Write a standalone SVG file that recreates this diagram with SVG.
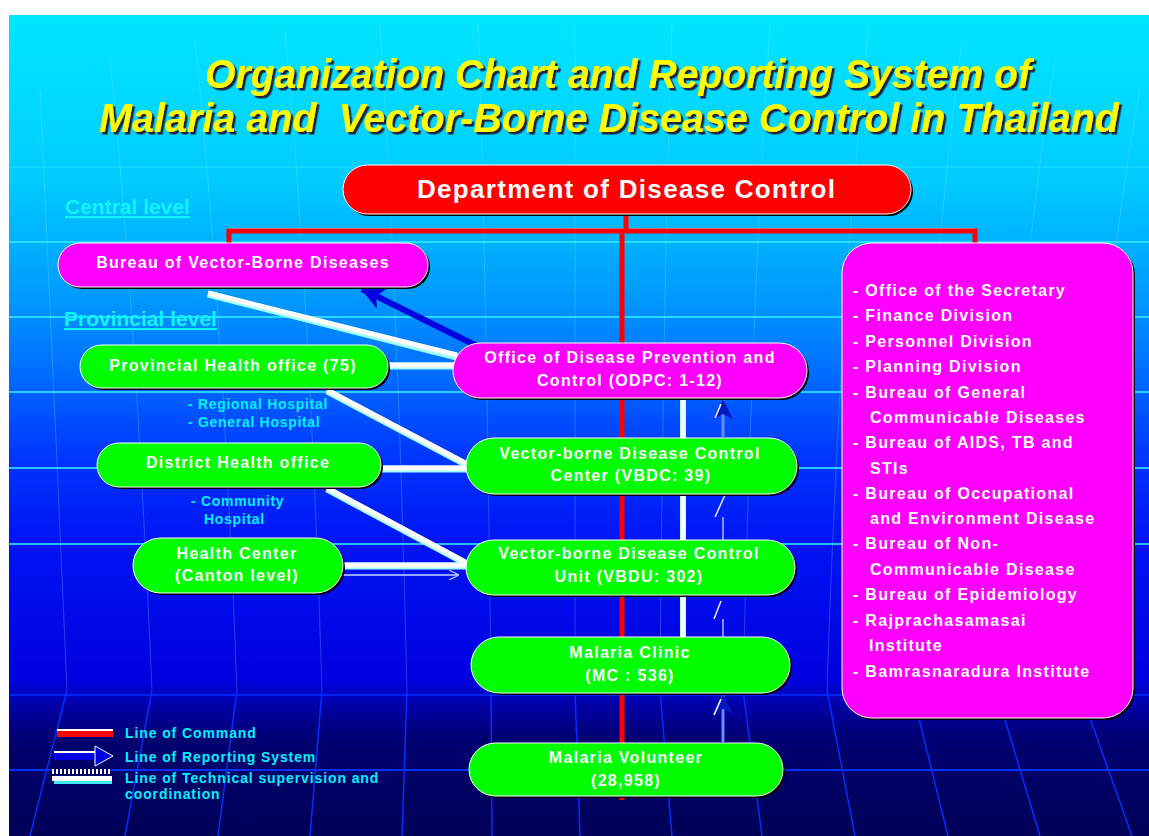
<svg xmlns="http://www.w3.org/2000/svg" width="1149" height="836" viewBox="0 0 1149 836">
<defs>
<linearGradient id="bg" x1="0" y1="0" x2="0" y2="1">
<stop offset="0" stop-color="#00E6FF"/>
<stop offset="0.2" stop-color="#00CCFF"/>
<stop offset="0.347" stop-color="#0098FF"/>
<stop offset="0.445" stop-color="#0068FF"/>
<stop offset="0.542" stop-color="#0034FF"/>
<stop offset="0.64" stop-color="#0014F4"/>
<stop offset="0.81" stop-color="#0000E0"/>
<stop offset="0.84" stop-color="#0000A8"/>
<stop offset="0.883" stop-color="#000070"/>
<stop offset="1" stop-color="#000058"/>
</linearGradient>
<filter id="tsh" x="-5%" y="-30%" width="110%" height="160%">
<feDropShadow dx="2.5" dy="2.5" stdDeviation="0" flood-color="#20203a" flood-opacity="1"/>
</filter>
<marker id="ah" viewBox="0 0 24 22" refX="22" refY="11" markerWidth="24" markerHeight="22" markerUnits="userSpaceOnUse" orient="auto">
<path d="M0,0 L24,11 L0,22 L6,11 z" fill="#0000E0"/>
</marker>
<marker id="ahv" viewBox="0 0 20 20" refX="19" refY="10" markerWidth="20" markerHeight="20" markerUnits="userSpaceOnUse" orient="auto">
<path d="M0,0 L20,10 L0,20 L5,10 z" fill="#0818C0"/>
</marker>
<marker id="ahs" viewBox="0 0 10 10" refX="9" refY="5" markerWidth="10" markerHeight="10" markerUnits="userSpaceOnUse" orient="auto">
<path d="M0,0 L10,5 L0,10" fill="none" stroke="#B8C8FF" stroke-width="1.2"/>
</marker>
<pattern id="hatch" width="4" height="6" patternUnits="userSpaceOnUse">
<rect width="4" height="6" fill="#000070"/>
<rect x="0" width="2" height="6" fill="#FFFFFF"/>
</pattern>
</defs>
<style>
.title{font-family:"Liberation Sans",Arial,sans-serif;font-weight:bold;font-style:italic;font-size:41px;fill:#FFFF00}
.lbl{font-family:"Liberation Sans",Arial,sans-serif;font-weight:bold;font-size:16px;fill:#FFFFFF;letter-spacing:1.3px;text-anchor:middle}
.dept{font-family:"Liberation Sans",Arial,sans-serif;font-weight:bold;font-size:26px;fill:#FFFFFF;text-anchor:middle}
.list{font-family:"Liberation Sans",Arial,sans-serif;font-weight:bold;font-size:16px;fill:#FFFFFF;letter-spacing:1.3px}
.lvl{font-family:"Liberation Sans",Arial,sans-serif;font-weight:bold;font-size:21px;fill:#10F4FF;text-decoration:underline}
.hosp{font-family:"Liberation Sans",Arial,sans-serif;font-weight:bold;font-size:14px;fill:#00F0FF;letter-spacing:0.7px}
.leg{font-family:"Liberation Sans",Arial,sans-serif;font-weight:bold;font-size:14px;fill:#00F0FF;letter-spacing:0.9px}
.shadow{fill:#000000}
.green{fill:#00FF00;stroke:#FFFFFF;stroke-width:1}
.mag{fill:#FF00FF;stroke:#FFFFFF;stroke-width:1}
.red{fill:#FF0000;stroke:#FFFFFF;stroke-width:1}
.cmd{stroke:#FF0000;stroke-width:5;fill:none}
.tech{stroke:#FFFFFF;stroke-width:5;fill:none}
.techc{stroke:#A0FFFF;stroke-width:7;fill:none}
.rep{stroke:#0000E0;stroke-width:6;fill:none}
.repv{stroke:#6888FF;stroke-width:3;fill:none}
.faint{stroke:#C8D8FF;stroke-width:1.3;fill:none}
.gridh{stroke:#30ECFF;stroke-width:2}
.gridv{stroke:#80F0FF;stroke-width:1;stroke-opacity:0.25;fill:none}
.gridb{stroke:#0030FF;stroke-width:1.5;fill:none}
</style>

<rect x="0" y="0" width="1149" height="836" fill="#FFFFFF"/>
<g id="background">
<rect x="9" y="15" width="1140" height="821" fill="url(#bg)"/>
<g>
<line class="gridh" x1="9" y1="242" x2="1149" y2="242" stroke-opacity="0.8"/>
<line class="gridh" x1="9" y1="317" x2="1149" y2="317" stroke-opacity="0.8"/>
<line class="gridh" x1="9" y1="392" x2="1149" y2="392" stroke-opacity="0.8"/>
<line class="gridh" x1="9" y1="468" x2="1149" y2="468" stroke-opacity="0.8"/>
<line class="gridh" x1="9" y1="544" x2="1149" y2="544" stroke-opacity="0.8"/>
<line class="gridh" x1="9" y1="167" x2="1149" y2="167" stroke-opacity="0.3"/>
<line x1="9" y1="695" x2="1149" y2="695" stroke="#0030FF" stroke-width="1.5"/>
<line x1="9" y1="770" x2="1149" y2="770" stroke="#0030FF" stroke-width="2"/>
</g>
<g>
<path class="gridv" d="M40,90 Q50,300 67,690"/>
<path class="gridv" d="M110,60 Q135,300 152,690"/>
<path class="gridv" d="M195,40 Q222,300 237,690"/>
<path class="gridv" d="M285,30 Q310,300 322,690"/>
<path class="gridv" d="M380,25 Q398,300 407,690"/>
<path class="gridv" d="M478,22 Q487,300 491,690"/>
<path class="gridv" d="M575,22 Q575,300 575,690"/>
<path class="gridv" d="M672,22 Q663,300 660,690"/>
<path class="gridv" d="M770,25 Q752,300 743,690"/>
<path class="gridv" d="M868,30 Q840,300 827,690"/>
<path class="gridv" d="M962,40 Q928,300 912,690"/>
<path class="gridv" d="M1055,60 Q1016,300 996,690"/>
<path class="gridv" d="M1140,90 Q1100,300 1080,690"/>
<path class="gridb" d="M67,690 L30,836"/>
<path class="gridb" d="M152,690 L125,836"/>
<path class="gridb" d="M237,690 L218,836"/>
<path class="gridb" d="M322,690 L310,836"/>
<path class="gridb" d="M407,690 L402,836"/>
<path class="gridb" d="M491,690 L492,836"/>
<path class="gridb" d="M575,690 L580,836"/>
<path class="gridb" d="M660,690 L672,836"/>
<path class="gridb" d="M743,690 L762,836"/>
<path class="gridb" d="M827,690 L855,836"/>
<path class="gridb" d="M912,690 L948,836"/>
<path class="gridb" d="M996,690 L1040,836"/>
<path class="gridb" d="M1080,690 L1132,836"/>
</g>
</g>

<g id="title" filter="url(#tsh)">
<text class="title" x="205" y="88" textLength="826" lengthAdjust="spacingAndGlyphs">Organization Chart and Reporting System of</text>
<text class="title" x="99" y="132" style="font-size:40px" textLength="1020" lengthAdjust="spacingAndGlyphs" xml:space="preserve">Malaria and  Vector-Borne Disease Control in Thailand</text>
</g>

<g id="levels">
<text class="lvl" x="65" y="214">Central level</text>
<text class="lvl" x="64" y="326">Provincial level</text>
</g>

<g id="connectors">
<g id="command-lines">
<path d="M228,229 L975,229" stroke="#FFFFFF" stroke-width="1"/>
<path class="cmd" d="M626,214 L626,231"/>
<path class="cmd" d="M229,246 L229,231 L975,231 L975,246"/>
<path class="cmd" d="M622,231 L622,800"/>
</g>
<g id="technical-lines">
<path class="techc" d="M208,294 L457,357"/>
<path class="tech" d="M208,293 L457,355"/>
<path class="techc" d="M388,366 L455,366"/>
<path class="tech" d="M388,365 L455,365"/>
<path class="techc" d="M327,391 L467,465"/>
<path class="tech" d="M327,390 L467,464"/>
<path class="techc" d="M382,469 L467,469"/>
<path class="tech" d="M382,468 L467,468"/>
<path class="techc" d="M327,489 L467,564"/>
<path class="tech" d="M327,488 L467,563"/>
<path class="techc" d="M343,566 L467,566"/>
<path class="tech" d="M343,565 L467,565"/>
<path d="M683,398 L683,637" stroke="#C0F8FF" stroke-width="6"/>
<path d="M683,398 L683,637" stroke="#FFFFFF" stroke-width="3.5"/>
</g>
<g id="reporting-lines">
<path class="rep" d="M477,346 L362,289" marker-end="url(#ah)"/>
<path class="faint" d="M343,575 L458,575" marker-end="url(#ahs)"/>
<path class="repv" d="M723,437 L723,400" marker-end="url(#ahv)"/>
<path d="M715,418 L721,404" stroke="#FFFFFF" stroke-width="1.5"/>
<path class="faint" d="M723,540 L723,517"/>
<path d="M715,517 L725,495" stroke="#E0F0FF" stroke-width="1.5"/>
<path class="faint" d="M723,637 L723,619"/>
<path d="M714,619 L721,601" stroke="#E0F0FF" stroke-width="1.5"/>
<path class="repv" d="M723,742 L723,695" marker-end="url(#ahv)"/>
<path d="M714,715 L721,699" stroke="#FFFFFF" stroke-width="1.5"/>
</g>
</g>

<g id="dept">
<rect class="shadow" x="345" y="167" width="568" height="49" rx="24.5"/>
<rect class="red" x="343" y="165" width="568" height="49" rx="24.5"/>
<text class="dept" x="626" y="198" textLength="418" lengthAdjust="spacing">Department of Disease Control</text>
</g>

<g id="bureau">
<rect class="shadow" x="60" y="245" width="370" height="44" rx="22"/>
<rect class="mag" x="58" y="243" width="370" height="44" rx="22"/>
<text class="lbl" x="243" y="268">Bureau of Vector-Borne Diseases</text>
</g>

<g id="provincial">
<rect class="shadow" x="82" y="347" width="308" height="43" rx="21.5"/>
<rect class="green" x="80" y="345" width="308" height="43" rx="21.5"/>
<text class="lbl" x="233" y="371">Provincial Health office (75)</text>
</g>

<g id="odpc">
<rect class="shadow" x="455" y="345" width="354" height="55" rx="27.5"/>
<rect class="mag" x="453" y="343" width="354" height="55" rx="27.5"/>
<text class="lbl" x="630" y="363">Office of Disease Prevention and</text>
<text class="lbl" x="630" y="386">Control (ODPC: 1-12)</text>
</g>

<g id="hospital-labels">
<text class="hosp" x="188" y="409">- Regional Hospital</text>
<text class="hosp" x="188" y="427">- General Hospital</text>
<text class="hosp" x="191" y="506">- Community</text>
<text class="hosp" x="204" y="524">Hospital</text>
</g>

<g id="district">
<rect class="shadow" x="99" y="445" width="284" height="44" rx="22"/>
<rect class="green" x="97" y="443" width="284" height="44" rx="22"/>
<text class="lbl" x="238" y="468">District Health office</text>
</g>

<g id="vbdc">
<rect class="shadow" x="468" y="440" width="331" height="56" rx="28"/>
<rect class="green" x="466" y="438" width="331" height="56" rx="28"/>
<text class="lbl" x="630" y="459">Vector-borne Disease Control</text>
<text class="lbl" x="631" y="481">Center (VBDC: 39)</text>
</g>

<g id="health-center">
<rect class="shadow" x="135" y="540" width="210" height="55" rx="27.5"/>
<rect class="green" x="133" y="538" width="210" height="55" rx="27.5"/>
<text class="lbl" x="237" y="559">Health Center</text>
<text class="lbl" x="237" y="581">(Canton level)</text>
</g>

<g id="vbdu">
<rect class="shadow" x="468" y="542" width="329" height="55" rx="27.5"/>
<rect class="green" x="466" y="540" width="329" height="55" rx="27.5"/>
<text class="lbl" x="629" y="559">Vector-borne Disease Control</text>
<text class="lbl" x="629" y="582">Unit (VBDU: 302)</text>
</g>

<g id="malaria-clinic">
<rect class="shadow" x="473" y="639" width="319" height="56" rx="28"/>
<rect class="green" x="471" y="637" width="319" height="56" rx="28"/>
<text class="lbl" x="630" y="658">Malaria Clinic</text>
<text class="lbl" x="630" y="681">(MC : 536)</text>
</g>

<g id="malaria-volunteer">
<rect class="shadow" x="471" y="745" width="314" height="53" rx="26.5"/>
<rect class="green" x="469" y="743" width="314" height="53" rx="26.5"/>
<text class="lbl" x="626" y="763">Malaria Volunteer</text>
<text class="lbl" x="626" y="786">(28,958)</text>
</g>

<g id="divisions">
<rect class="shadow" x="844" y="245" width="291" height="475" rx="30"/>
<rect class="mag" x="842" y="243" width="291" height="475" rx="30"/>
<text class="list" x="853" y="296">- Office of the Secretary</text>
<text class="list" x="853" y="321">- Finance Division</text>
<text class="list" x="853" y="347">- Personnel Division</text>
<text class="list" x="853" y="372">- Planning Division</text>
<text class="list" x="853" y="398">- Bureau of General</text>
<text class="list" x="870" y="423">Communicable Diseases</text>
<text class="list" x="853" y="448">- Bureau of AIDS, TB and</text>
<text class="list" x="870" y="474">STIs</text>
<text class="list" x="853" y="499">- Bureau of Occupational</text>
<text class="list" x="870" y="524">and Environment Disease</text>
<text class="list" x="853" y="549">- Bureau of Non-</text>
<text class="list" x="870" y="575">Communicable Disease</text>
<text class="list" x="853" y="600">- Bureau of Epidemiology</text>
<text class="list" x="853" y="626">- Rajprachasamasai</text>
<text class="list" x="869" y="651">Institute</text>
<text class="list" x="853" y="677">- Bamrasnaradura Institute</text>
</g>

<g id="legend">
<rect x="57" y="729" width="56" height="3" fill="#FFFFFF"/>
<rect x="57" y="731" width="56" height="6" fill="#FF0000"/>
<text class="leg" x="125" y="738">Line of Command</text>
<rect x="54" y="751" width="42" height="2" fill="#FFFFFF"/>
<rect x="54" y="753" width="42" height="7" fill="#0000E0"/>
<path d="M95,746 L113,756 L95,766 z" fill="#0000E0" stroke="#FFFFFF" stroke-width="1"/>
<text class="leg" x="125" y="762">Line of Reporting System</text>
<rect x="52" y="769" width="58" height="5" fill="url(#hatch)"/>
<rect x="52" y="776" width="60" height="5" fill="#FFFFFF"/>
<rect x="54" y="781" width="58" height="3" fill="#40E8F0"/>
<text class="leg" x="125" y="783">Line of Technical supervision and</text>
<text class="leg" x="125" y="799">coordination</text>
</g>
</svg>
